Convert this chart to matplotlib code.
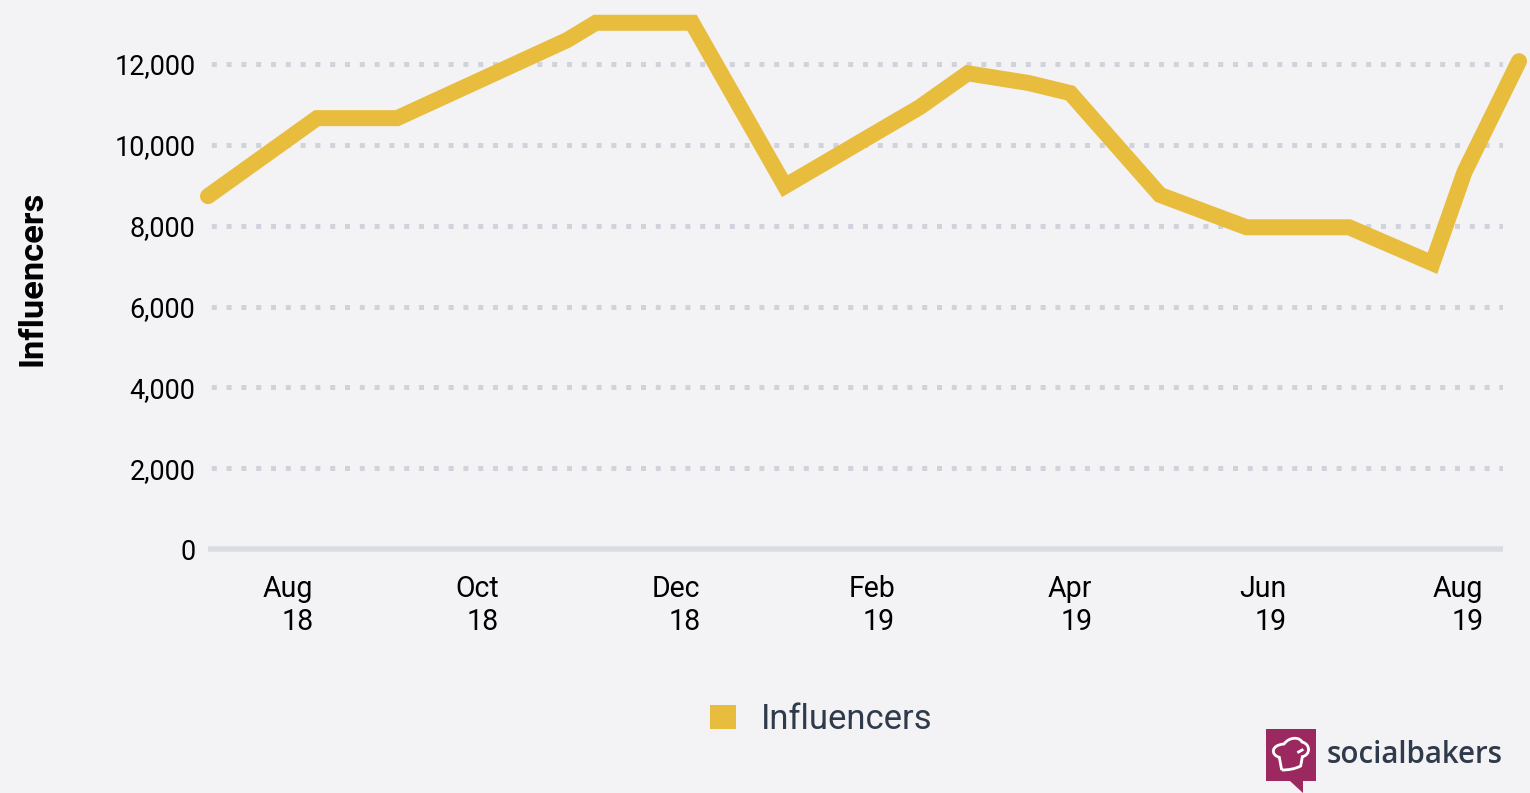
import matplotlib
matplotlib.use("Agg")
import matplotlib.pyplot as plt
import matplotlib.dates as mdates
from matplotlib.patches import Polygon, PathPatch, Patch
from matplotlib.path import Path
from matplotlib.transforms import Affine2D
from matplotlib.ticker import FuncFormatter
from datetime import date

dates = ["2018-07-07", "2018-08-10", "2018-09-04", "2018-10-27", "2018-11-05", "2018-12-05",
         "2019-01-03", "2019-02-14", "2019-03-01", "2019-03-20", "2019-04-02", "2019-04-30",
         "2019-05-27", "2019-06-28", "2019-07-24", "2019-08-03", "2019-08-20"]
influencers = [8730, 10660, 10660, 12590, 13020, 13020,
               8980, 10930, 11770, 11530, 11280, 8760,
               7960, 7960, 7070, 9330, 12070]
tick_dates = ["2018-08-01", "2018-09-29", "2018-11-30", "2019-01-30", "2019-04-02", "2019-06-01", "2019-08-01"]
tick_labels = ["Aug\n18", "Oct\n18", "Dec\n18", "Feb\n19", "Apr\n19", "Jun\n19", "Aug\n19"]
y_ticks = [0, 2000, 4000, 6000, 8000, 10000, 12000]

W, H = 1530, 793
BG = "#f3f3f6"
GOLD = "#e8bc3c"
GRID = "#d0d3dc"
BASE = "#d9dce3"
DARK = "#2f3a4a"
px = 72 / 100

plt.rcParams["font.family"] = ["Roboto", "DejaVu Sans"]
fig = plt.figure(figsize=(W / 100, H / 100), dpi=100, facecolor=BG)
ax = fig.add_axes([208 / W, 1 - 549 / H, (1503 - 208) / W, (549 - 10) / H], facecolor=BG)

x = [mdates.date2num(date.fromisoformat(d)) for d in dates]
ax.plot(x, influencers, color=GOLD, lw=16 * px, solid_capstyle="round",
        solid_joinstyle="miter", clip_on=False, zorder=4, label="Influencers")

ax.set_xlim(mdates.date2num(date(2018, 7, 7)), mdates.date2num(date(2019, 8, 15)))
ax.set_ylim(0, 539 / (485 / 12000))

for v in y_ticks[1:]:
    ax.axhline(v, color=GRID, lw=5 * px, linestyle=(2.3, (1, 1.96)),
               dash_capstyle="butt", zorder=1)
ax.axhline(0, color=BASE, lw=5.5 * px, zorder=2, clip_on=False, solid_capstyle="butt")

for s in ax.spines.values():
    s.set_visible(False)
ax.set_yticks(y_ticks)
ax.yaxis.set_major_formatter(FuncFormatter(lambda v, _: f"{int(v):,}"))
ax.set_xticks([mdates.date2num(date.fromisoformat(d)) for d in tick_dates])
ax.set_xticklabels(tick_labels, multialignment="right", linespacing=1.19)
ax.tick_params(axis="both", length=0, labelcolor="black")
ax.tick_params(axis="x", pad=19, labelsize=28.5 * px)
ax.tick_params(axis="y", pad=9, labelsize=27 * px)
ax.set_ylabel("Influencers", fontsize=34.5 * px, fontweight="bold", color="black")
ax.yaxis.set_label_coords((49 - 208) / (1503 - 208), 1 - (278 - 10) / 539)

handle = Patch(facecolor=GOLD, edgecolor="none", label="Influencers")
fig.legend(handles=[handle], loc="center", bbox_to_anchor=(821 / W, 1 - 719.5 / H),
           frameon=False, fontsize=34.6 * px, labelcolor=DARK, handlelength=0.75,
           handleheight=0.68, handletextpad=0.72)

# Logo, placed in figure pixels
pixel_space = Affine2D().scale(1, -1).translate(0, H)
bubble = [(1266, 729), (1316, 729), (1316, 781), (1303, 781), (1303, 793), (1290, 781), (1266, 781)]
fig.add_artist(Polygon(bubble, closed=True, facecolor="#9b285f", edgecolor="none", transform=pixel_space))
def z(a, b):
    return (1240 + a / 3, 700 + b / 3)
C = Path.CURVE4
hat_v = [z(125, 210), z(122, 195), z(120, 182), z(118, 172),
         z(92, 165), z(92, 135), z(132, 132),
         z(150, 108), z(180, 112), z(186, 126),
         z(212, 132), z(212, 165), z(187, 170),
         z(185, 180), z(184, 190), z(182, 198),
         z(165, 207), z(145, 210), z(125, 210)]
hat_c = [Path.MOVETO] + [C] * 18
fig.add_artist(PathPatch(Path(hat_v, hat_c), facecolor="none", edgecolor="white", lw=2.8 * px,
                         transform=pixel_space))
fig.add_artist(PathPatch(Path([z(172, 158), z(190, 148)], [Path.MOVETO, Path.LINETO]),
                         facecolor="none", edgecolor="white", lw=2.8 * px, transform=pixel_space))
fig.text(1327 / W, 1 - 755 / H, "socialbakers", fontsize=29.5 * px, color=DARK, family="Open Sans",
         fontweight="semibold", ha="left", va="center")

fig.savefig("out.png", dpi=100, facecolor=BG)
